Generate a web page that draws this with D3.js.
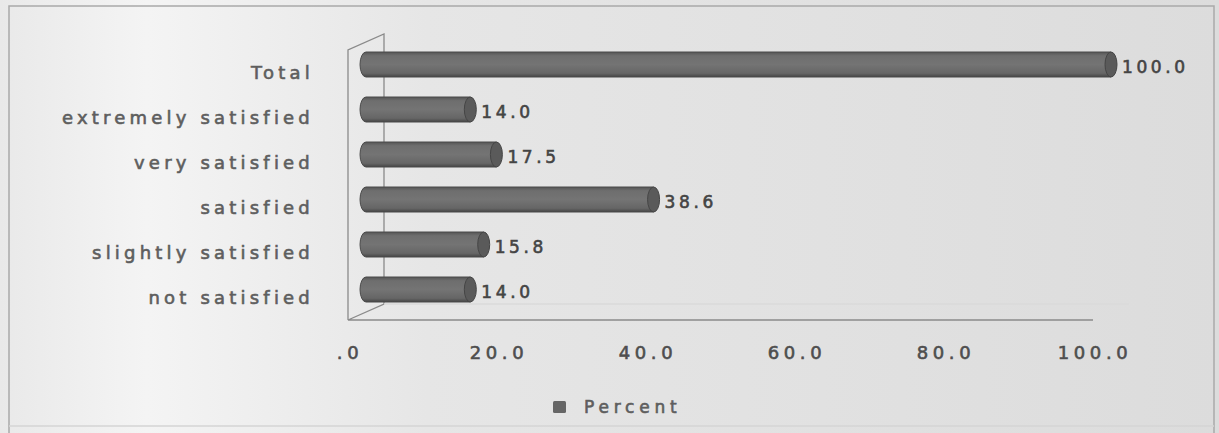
<!DOCTYPE html>
<meta charset="utf-8">
<script src="https://d3js.org/d3.v7.min.js"></script>
<style>
  body { margin: 0; background: #fff; }
  svg { display: block; }
  text { font-family: "DejaVu Sans", sans-serif; stroke-width: 0.6px; }
</style>
<div id="chart"></div>
<script>
// data
var categories = ["Total", "extremely satisfied", "very satisfied", "satisfied", "slightly satisfied", "not satisfied"];
var percents = [100.0, 14.0, 17.5, 38.6, 15.8, 14.0];
var tickValues = [0, 20, 40, 60, 80, 100];
var tickLabels = [".0", "20.0", "40.0", "60.0", "80.0", "100.0"];
var seriesName = "Percent";

var W = 1219, H = 433;
var depth = {dx: 36, dy: -16};   // 3d wall offset

var svg = d3.select("#chart").append("svg")
  .attr("width", W).attr("height", H);

var defs = svg.append("defs");

// scanned paper look: light on the left, greyer to the right
var bg = defs.append("linearGradient").attr("id", "bg").attr("x1", 0).attr("x2", 1).attr("y1", 0).attr("y2", 0);
bg.append("stop").attr("offset", "0").attr("stop-color", "#e9e9e9");
bg.append("stop").attr("offset", "0.12").attr("stop-color", "#f4f4f4");
bg.append("stop").attr("offset", "0.35").attr("stop-color", "#e6e6e6");
bg.append("stop").attr("offset", "1").attr("stop-color", "#dcdcdc");

var cyl = defs.append("linearGradient").attr("id", "cyl").attr("x1", 0).attr("x2", 0).attr("y1", 0).attr("y2", 1);
cyl.append("stop").attr("offset", "0").attr("stop-color", "#555");
cyl.append("stop").attr("offset", "0.15").attr("stop-color", "#6e6e6e");
cyl.append("stop").attr("offset", "0.5").attr("stop-color", "#747474");
cyl.append("stop").attr("offset", "0.85").attr("stop-color", "#666");
cyl.append("stop").attr("offset", "1").attr("stop-color", "#454545");

svg.append("rect").attr("width", W).attr("height", H).attr("fill", "url(#bg)");

// outer frame
svg.append("path")
  .attr("d", "M9,433 V6 H1214 V433")
  .attr("fill", "none").attr("stroke", "#a9a9a9").attr("stroke-width", 1.5);
svg.append("line").attr("x1", 9).attr("x2", 1214).attr("y1", 426).attr("y2", 426)
  .attr("stroke", "#d4d4d4").attr("stroke-width", 1.5);

var x = d3.scaleLinear().domain([0, 100]).range([348, 1093]);
var y = d3.scaleBand().domain(categories).range([50, 320]);

var x0 = x(0), yTop = y.range()[0], yBot = y.range()[1];

// 3d walls
var wall = svg.append("g").attr("fill", "none").attr("stroke", "#8a8a8a").attr("stroke-width", 1.3);
wall.append("path").attr("d",
  "M" + x0 + "," + yBot + " V" + yTop +
  " L" + (x0 + depth.dx) + "," + (yTop + depth.dy) +
  " V" + (yBot + depth.dy) +
  " L" + x0 + "," + yBot +
  " H" + x(100));
wall.append("line")
  .attr("x1", x0 + depth.dx).attr("x2", x(100) + depth.dx)
  .attr("y1", yBot + depth.dy).attr("y2", yBot + depth.dy)
  .attr("stroke", "#dadada");

// bars as cylinders, drawn halfway into the depth
var bh = 25, rx = 6;
var bars = svg.append("g").selectAll("g")
  .data(categories.map(function(c, i) { return {cat: c, v: percents[i]}; }))
  .enter().append("g")
  .attr("transform", function(d) {
    return "translate(0," + (y(d.cat) + y.bandwidth() / 2 + depth.dy / 2) + ")";
  });

bars.append("path")
  .attr("d", function(d) {
    var a = x0 + depth.dx / 2, b = x(d.v) + depth.dx / 2;
    return "M" + b + "," + (-bh / 2) + " H" + a +
      " A" + rx + "," + (bh / 2) + " 0 0 0 " + a + "," + (bh / 2) +
      " H" + b + " Z";
  })
  .attr("fill", "url(#cyl)")
  .attr("stroke", "#4a4a4a").attr("stroke-width", 1);

bars.append("ellipse")
  .attr("cx", function(d) { return x(d.v) + depth.dx / 2; })
  .attr("cy", 0).attr("rx", rx).attr("ry", bh / 2)
  .attr("fill", "#5a5a5a").attr("stroke", "#454545").attr("stroke-width", 1);

bars.append("text")
  .attr("x", function(d) { return x(d.v) + depth.dx / 2 + rx + 5; })
  .attr("y", 3)
  .attr("dy", "0.35em")
  .style("font-size", "17px")
  .style("letter-spacing", "3.6px")
  .attr("fill", "#444").attr("stroke", "#444")
  .text(function(d) { return d.v.toFixed(1); });

// category labels
svg.append("g").selectAll("text")
  .data(categories).enter().append("text")
  .attr("x", 314)
  .attr("y", function(d) { return y(d) + y.bandwidth() / 2; })
  .attr("dy", "0.35em")
  .attr("text-anchor", "end")
  .style("font-size", "18px")
  .style("letter-spacing", "4.2px")
  .attr("fill", "#5e5e5e").attr("stroke", "#5e5e5e")
  .text(function(d) { return d; });

// x tick labels
svg.append("g").selectAll("text")
  .data(tickValues).enter().append("text")
  .attr("x", function(d) { return x(d) + 2; })
  .attr("y", 353)
  .attr("dy", "0.35em")
  .attr("text-anchor", "middle")
  .style("font-size", "18px")
  .style("letter-spacing", "4.6px")
  .attr("fill", "#4e4e4e").attr("stroke", "#4e4e4e")
  .text(function(d, i) { return tickLabels[i]; });

// legend
var lg = svg.append("g").attr("transform", "translate(553,407)");
lg.append("rect").attr("x", 0).attr("y", -6).attr("width", 13).attr("height", 12)
  .attr("rx", 1.5).attr("fill", "#666");
lg.append("text").attr("x", 31).attr("y", 0).attr("dy", "0.35em")
  .style("font-size", "17px")
  .style("letter-spacing", "4.8px")
  .attr("fill", "#5e5e5e").attr("stroke", "#5e5e5e")
  .text(seriesName);
</script>
